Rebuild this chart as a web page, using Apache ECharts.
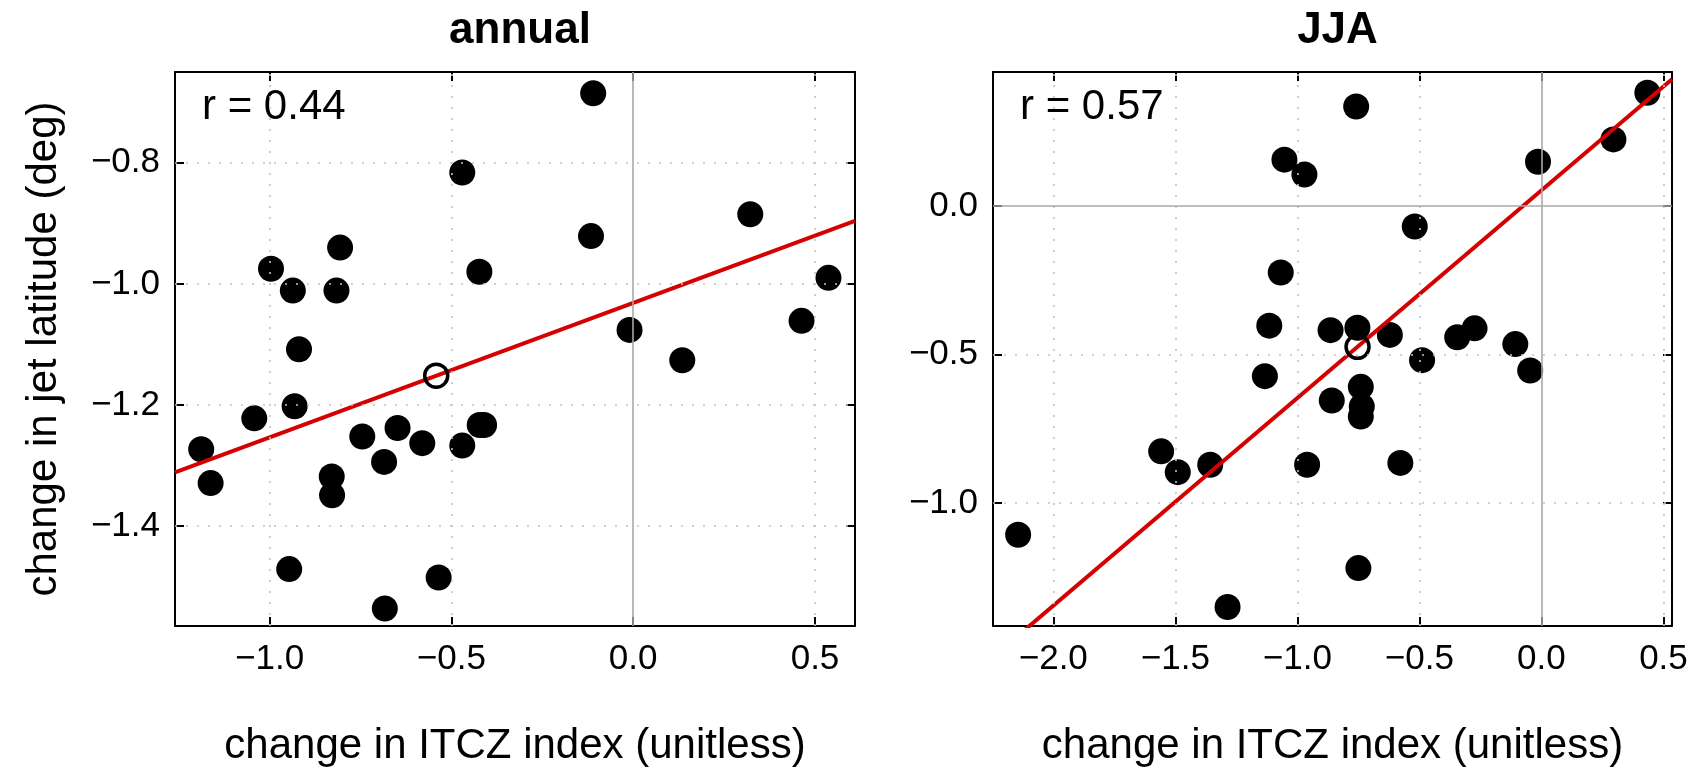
<!DOCTYPE html>
<html>
<head>
<meta charset="utf-8">
<script src="https://cdn.jsdelivr.net/npm/echarts@6/dist/echarts.min.js"></script>
<style>
  html, body { margin: 0; padding: 0; background: #fff; }
  #chart { width: 1703px; height: 767px; }
</style>
</head>
<body>
<div id="chart"></div>
<script>
// Change in ITCZ index vs. change in jet latitude, one point per model.

// annual mean
const annualItcz = [
  -0.110, -0.470, -0.116, 0.322, -0.996, -0.806, -0.936, -0.816, -0.423, 0.537,
  0.463, -0.010, 0.135, -0.919, -0.931, -1.042, -1.188, -1.162, -0.745, -0.648,
  -0.580, -0.685, -0.470, -0.422, -0.410, -0.829, -0.828, -0.946, -0.535, -0.683
];
const annualJet = [
  -0.685, -0.816, -0.921, -0.885, -0.975, -0.940, -1.011, -1.011, -0.980, -0.990,
  -1.061, -1.076, -1.126, -1.108, -1.202, -1.222, -1.273, -1.329, -1.252, -1.238,
  -1.263, -1.294, -1.267, -1.233, -1.233, -1.318, -1.349, -1.471, -1.485, -1.536
];

// June-July-August
const jjaItcz = [
  -0.759, -1.053, -0.971, -0.014, 0.295, 0.434, -0.519, -1.068, -1.115, -0.864,
  -0.754, -0.621, -0.274, -0.345, -0.107, -0.489, -0.046, -1.133, -0.740, -0.859,
  -0.736, -0.740, -1.558, -1.490, -1.357, -0.960, -0.578, -2.144, -0.750, -1.286
];
const jjaJet = [
  0.335, 0.156, 0.106, 0.149, 0.224, 0.381, -0.069, -0.224, -0.403, -0.418,
  -0.410, -0.434, -0.412, -0.442, -0.465, -0.519, -0.554, -0.573, -0.609, -0.655,
  -0.675, -0.709, -0.826, -0.896, -0.871, -0.871, -0.865, -1.107, -1.219, -1.350
];

const panelTitles = ['annual', 'JJA'];
const corrLabels = ['r = 0.44', 'r = 0.57'];
// slope of the fitted line drawn through the multi-model mean (deg per unit)
const fitSlopes = [0.222, 0.699];

const annualXRange = [-1.26, 0.61];
const annualYRange = [-1.565, -0.65];
const jjaXRange = [-2.247, 0.535];
const jjaYRange = [-1.414, 0.451];

const annualXTicks = [-1.0, -0.5, 0.0, 0.5];
const annualYTicks = [-1.4, -1.2, -1.0, -0.8];
const jjaXTicks = [-2.0, -1.5, -1.0, -0.5, 0.0, 0.5];
const jjaYTicks = [-1.0, -0.5, 0.0];

const xName = 'change in ITCZ index (unitless)';
const yName = 'change in jet latitude (deg)';

const FONT = '"Liberation Sans", Helvetica, Arial, sans-serif';
const RED = '#d50000';

function mean(a) { return a.reduce((s, v) => s + v, 0) / a.length; }

function fmt(v) {
  const s = Math.abs(v).toFixed(1);
  return v < -1e-9 ? '\u2212' + s : s;
}

const panels = [
  { x: annualItcz, y: annualJet, xr: annualXRange, yr: annualYRange, xt: annualXTicks, yt: annualYTicks },
  { x: jjaItcz, y: jjaJet, xr: jjaXRange, yr: jjaYRange, xt: jjaXTicks, yt: jjaYTicks }
];

// fixed plot boxes; labels may reach the canvas edge without shrinking them
const grids = [
  { left: 175, top: 72, width: 680, height: 554, outerBoundsMode: 'none', containLabel: false },
  { left: 993, top: 72, width: 679, height: 554, outerBoundsMode: 'none', containLabel: false }
];

const xAxes = [], yAxes = [], series = [], titles = [], graphics = [];

panels.forEach((p, i) => {
  const frame = { onZero: false, lineStyle: { color: '#000', width: 2 } };
  const tick = (vals) => ({ inside: true, length: 9, customValues: vals, lineStyle: { color: '#000', width: 2 } });

  xAxes.push({
    gridIndex: i, type: 'value', position: 'bottom', min: p.xr[0], max: p.xr[1],
    axisLine: frame, axisTick: tick(p.xt), splitLine: { show: false },
    axisLabel: { customValues: p.xt, formatter: fmt, color: '#000', fontSize: 35, fontFamily: FONT, margin: 16 },
    name: xName, nameLocation: 'middle', nameGap: 99,
    nameTextStyle: { color: '#000', fontSize: 42, fontFamily: FONT }
  });
  xAxes.push({
    gridIndex: i, type: 'value', position: 'top', min: p.xr[0], max: p.xr[1],
    axisLine: frame, axisTick: tick(p.xt), axisLabel: { show: false }, splitLine: { show: false }
  });
  yAxes.push({
    gridIndex: i, type: 'value', position: 'left', min: p.yr[0], max: p.yr[1],
    axisLine: frame, axisTick: tick(p.yt), splitLine: { show: false },
    axisLabel: { customValues: p.yt, formatter: fmt, color: '#000', fontSize: 35, fontFamily: FONT, margin: 15 },
    name: i === 0 ? yName : '', nameLocation: 'middle', nameGap: 110, nameRotate: 90,
    nameTextStyle: { color: '#000', fontSize: 42, fontFamily: FONT }
  });
  yAxes.push({
    gridIndex: i, type: 'value', position: 'right', min: p.yr[0], max: p.yr[1],
    axisLine: frame, axisTick: tick(p.yt), axisLabel: { show: false }, splitLine: { show: false }
  });

  const xi = 2 * i, yi = 2 * i;
  const mx = mean(p.x), my = mean(p.y);
  const slope = fitSlopes[i];
  const lineAt = (x) => my + slope * (x - mx);

  // dotted grid at every labelled tick, solid grey zero lines
  const dotted = [];
  p.xt.filter(v => v !== 0).forEach(v => dotted.push({ xAxis: v }));
  p.yt.filter(v => v !== 0).forEach(v => dotted.push({ yAxis: v }));
  const zero = [];
  if (p.xr[0] < 0 && p.xr[1] > 0) zero.push({ xAxis: 0 });
  if (p.yr[0] < 0 && p.yr[1] > 0) zero.push({ yAxis: 0 });

  series.push({
    type: 'line', xAxisIndex: xi, yAxisIndex: yi, data: [], z: 1, silent: true,
    markLine: {
      silent: true, symbol: 'none', label: { show: false }, animation: false,
      lineStyle: { type: [2, 9], color: '#c4c4c4', width: 1.6 },
      data: dotted
    }
  });
  series.push({
    type: 'line', xAxisIndex: xi, yAxisIndex: yi, data: [], z: 1, silent: true,
    markLine: {
      silent: true, symbol: 'none', label: { show: false }, animation: false,
      lineStyle: { type: 'solid', color: '#a8a8a8', width: 1.6 },
      data: zero
    }
  });

  // individual models
  series.push({
    type: 'scatter', xAxisIndex: xi, yAxisIndex: yi, z: 2, animation: false,
    symbol: 'circle', symbolSize: 26, itemStyle: { color: '#000', opacity: 1 },
    data: p.x.map((x, k) => [x, p.y[k]])
  });

  // fitted line, clipped to the plot box
  series.push({
    type: 'line', xAxisIndex: xi, yAxisIndex: yi, z: 3, animation: false, clip: true,
    showSymbol: false, lineStyle: { color: RED, width: 4 },
    data: [[p.xr[0], lineAt(p.xr[0])], [p.xr[1], lineAt(p.xr[1])]]
  });

  // multi-model mean
  series.push({
    type: 'scatter', xAxisIndex: xi, yAxisIndex: yi, z: 4, animation: false,
    symbol: 'circle', symbolSize: 23,
    itemStyle: { color: 'transparent', borderColor: '#000', borderWidth: 3.5, opacity: 1 },
    data: [[mx, my]]
  });

  const g = grids[i];
  titles.push({
    text: panelTitles[i], left: g.left + g.width / 2, top: 4, textAlign: 'center',
    textStyle: { color: '#000', fontSize: 44, fontWeight: 'bold', fontFamily: FONT }
  });
  graphics.push({
    type: 'text', left: g.left + 27, top: 86, silent: true,
    style: { text: corrLabels[i], fill: '#000', fontSize: 42, fontFamily: FONT }
  });
});

const chart = echarts.init(document.getElementById('chart'), null, { renderer: 'canvas' });
chart.setOption({
  animation: false,
  backgroundColor: '#fff',
  title: titles,
  grid: grids,
  xAxis: xAxes,
  yAxis: yAxes,
  series: series,
  graphic: graphics
});
</script>
</body>
</html>
